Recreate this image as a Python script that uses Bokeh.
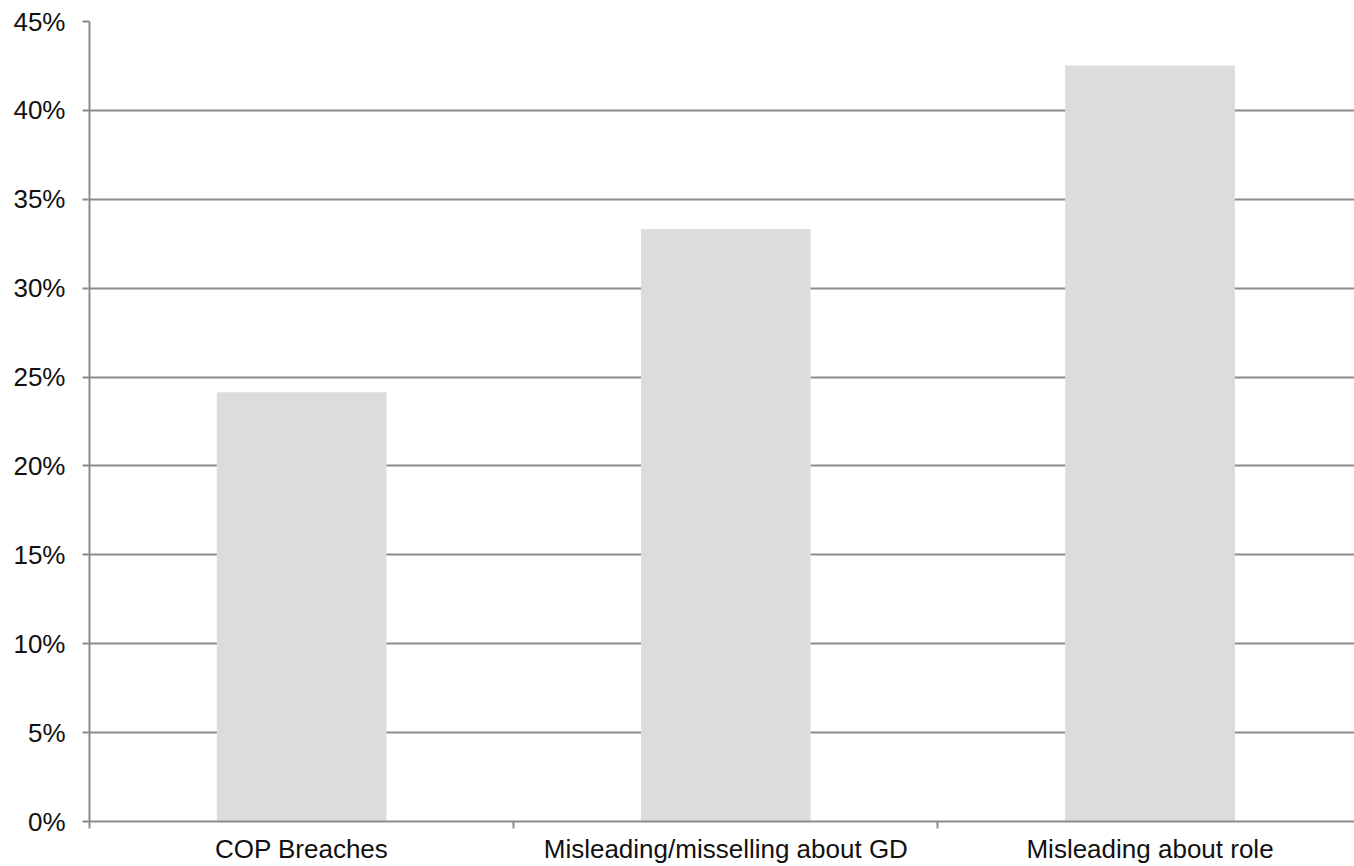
from bokeh.plotting import figure
from bokeh.models import Range1d, FixedTicker, PrintfTickFormatter
from bokeh.embed import file_html
from bokeh.resources import INLINE

# Share of complaints by type (%)
categories = ["COP Breaches", "Misleading/misselling about GD", "Misleading about role"]
shares = [24.14, 33.33, 42.53]
y_ticks = [0, 5, 10, 15, 20, 25, 30, 35, 40, 45]

positions = [i + 0.5 for i in range(len(categories))]
boundaries = list(range(len(categories) + 1))

FONT = "Liberation Sans"
AXIS_GRAY = "#8c8c8c"

p = figure(
    width=1354, height=866,
    x_range=Range1d(0, 2.982), y_range=Range1d(0, 45),
    output_backend="svg", toolbar_location=None,
    min_border_left=89, min_border_right=0, min_border_top=21, min_border_bottom=45,
)
p.outline_line_color = None
p.background_fill_color = "white"
p.border_fill_color = "white"

p.vbar(x=positions, top=shares, width=0.4, fill_color="#dcdcdc", line_color=None)

# y axis
p.yaxis.ticker = FixedTicker(ticks=y_ticks)
p.yaxis.formatter = PrintfTickFormatter(format="%d%%")
p.yaxis.axis_line_color = AXIS_GRAY
p.yaxis.axis_line_width = 2
p.yaxis.major_tick_line_color = AXIS_GRAY
p.yaxis.major_tick_line_width = 2
p.yaxis.major_tick_in = 0
p.yaxis.major_tick_out = 7
p.yaxis.minor_tick_line_color = None
p.yaxis.major_label_standoff = 17
p.yaxis.major_label_text_font = FONT
p.yaxis.major_label_text_font_size = "26px"
p.yaxis.major_label_text_color = "#111111"

# x axis: category names at bar centres, tick marks at the boundaries
p.xaxis.ticker = FixedTicker(ticks=positions, minor_ticks=boundaries)
p.xaxis.major_label_overrides = {pos: name for pos, name in zip(positions, categories)}
p.xaxis.major_label_standoff = 5
p.xaxis.major_label_text_font = FONT
p.xaxis.major_label_text_font_size = "26px"
p.xaxis.major_label_text_color = "#111111"
p.xaxis.major_tick_line_color = None
p.xaxis.major_tick_out = 0
p.xaxis.major_tick_in = 0
p.xaxis.minor_tick_line_color = AXIS_GRAY
p.xaxis.minor_tick_line_width = 2
p.xaxis.minor_tick_in = 0
p.xaxis.minor_tick_out = 7
p.xaxis.axis_line_color = AXIS_GRAY
p.xaxis.axis_line_width = 2

p.xgrid.grid_line_color = None
p.ygrid.ticker = FixedTicker(ticks=y_ticks)
p.ygrid.grid_line_color = AXIS_GRAY
p.ygrid.grid_line_width = 2

open("out.html", "w").write(file_html(p, INLINE))
